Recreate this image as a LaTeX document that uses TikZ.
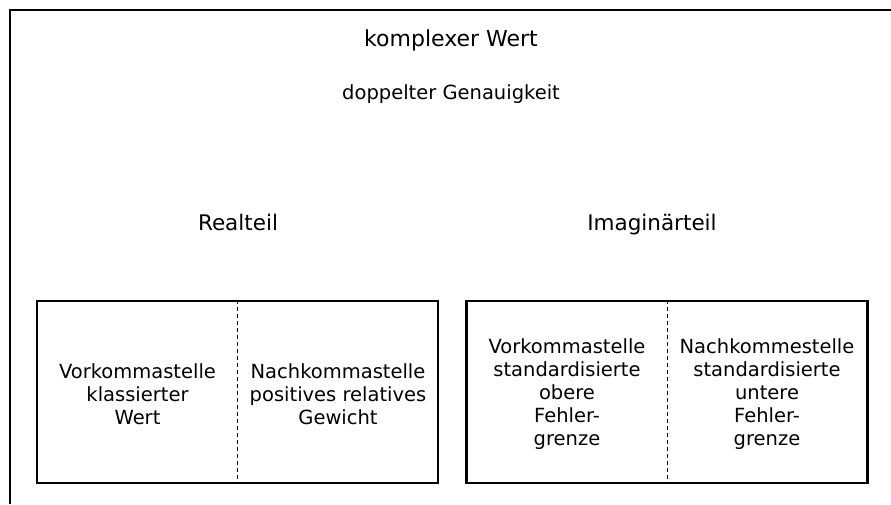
\documentclass[tikz,border=0pt]{standalone}
\usepackage{fontspec}
\setmainfont{DejaVu Sans}

\begin{document}
\begin{tikzpicture}[x=1pt,y=-1pt,
  feld/.style={draw,line width=2.2pt,minimum width=401pt,minimum height=182pt,inner sep=0pt},
  stelle/.style={align=center,font=\fontsize{19.5}{23}\selectfont},
  teil/.style={anchor=base,font=\fontsize{21.5}{26}\selectfont}]
\useasboundingbox (0,0) rectangle (891,504);
\def\ly{394};
\draw[line width=2.2pt] (10,504) -- (10,10) -- (891,10);
\node[font=\fontsize{22}{26}\selectfont] (titel) at (451,40) {komplexer Wert};
\node[font=\fontsize{19.5}{23}\selectfont] (genau) at (451,94) {doppelter Genauigkeit};
\node[teil] (real) at (238,230) {Realteil};
\node[teil] (imag) at (652,230) {Imaginärteil};
\node[feld] (rbox) at (237.5,392) {};
\node[feld] (ibox) at (667,392) {};
\draw[line width=1pt,dash pattern=on 4pt off 3pt] (rbox.north) -- (rbox.south);
\draw[line width=1pt,dash pattern=on 4pt off 3pt] (ibox.north) -- (ibox.south);
\node[stelle] (rvor) at (137.5,\ly) {Vorkommastelle\\klassierter\\Wert};
\node[stelle] (rnach) at (338,\ly) {Nachkommastelle\\positives relatives\\Gewicht};
\node[stelle] (ivor) at (567,\ly) {Vorkommastelle\\standardisierte\\obere\\Fehler-\\grenze};
\node[stelle] (inach) at (767,\ly) {Nachkommestelle\\standardisierte\\untere\\Fehler-\\grenze};
\end{tikzpicture}
\end{document}
